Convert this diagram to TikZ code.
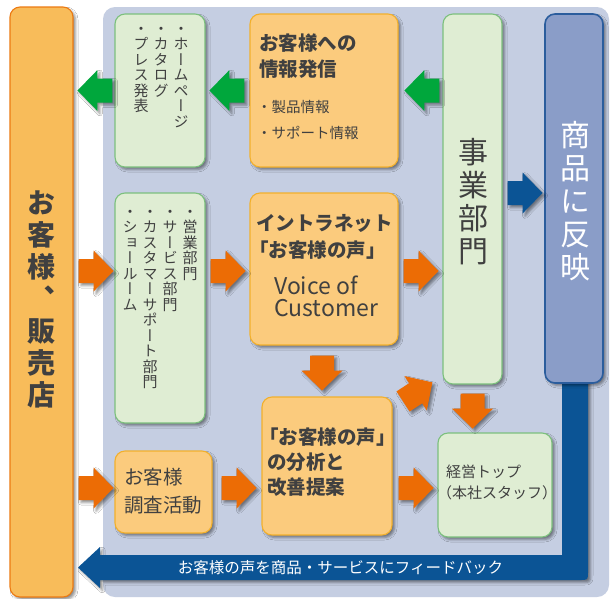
\documentclass[tikz,border=0pt]{standalone}
\usepackage{fontspec}
\setmainfont{Noto Sans CJK JP}
\newfontfamily\vfont[RawFeature=+vert]{Noto Sans CJK JP}
\usetikzlibrary{calc,fit,shadows,shadows.blur}
\definecolor{txt}{HTML}{404040}
\definecolor{panel}{HTML}{C5CEE2}
\definecolor{lfill}{HTML}{F8BC5A}
\definecolor{ldraw}{HTML}{EC7A12}
\definecolor{gfill}{HTML}{DFEDD3}
\definecolor{gdraw}{HTML}{7CC07D}
\definecolor{ofill}{HTML}{FBCB7D}
\definecolor{odraw}{HTML}{F2B02C}
\definecolor{oarrow}{HTML}{EC6C05}
\definecolor{garrow}{HTML}{00A73C}
\definecolor{darkblue}{HTML}{0B5495}
\definecolor{bfill}{HTML}{8A9DC8}
\definecolor{bdraw}{HTML}{2B5D9D}
\ExplSyntaxOn
\NewDocumentCommand\vst{m}{
  \seq_clear:N \l_tmpa_seq
  \tl_map_inline:nn {#1} { \seq_put_right:Nn \l_tmpa_seq {##1} }
  \seq_use:Nn \l_tmpa_seq {\\}
}
\ExplSyntaxOff
\newcommand\barrow[3]{\path[#1, shift={#2}, rotate=#3] (0pt,12pt) -- (15pt,12pt) -- (15pt,20.5pt) -- (35pt,0pt) -- (15pt,-20.5pt) -- (15pt,-12pt) -- (0pt,-12pt) -- cycle;}
\tikzset{
  shad/.style={blur shadow={shadow xshift=2.5pt, shadow yshift=-2.5pt, shadow blur radius=2.5pt, shadow opacity=45}},
  box/.style={rounded corners=10pt, line width=1.1pt, shad, inner sep=0pt},
  gbox/.style={box, fill=gfill, draw=gdraw},
  obox/.style={box, fill=ofill, draw=odraw},
  oarr/.style={fill=oarrow, shad},
  garr/.style={fill=garrow, shad},
  barr/.style={fill=darkblue, shad},
  t/.style={text=txt, inner sep=0pt, anchor=west},
  hb/.style={t, font=\bfseries\fontsize{19.5}{20}\selectfont},
  vt/.style={text=txt, inner sep=0pt, align=center, anchor=north, font=\vfont\fontsize{15}{15.5}\selectfont},
}
\begin{document}
\begin{tikzpicture}[x=1pt,y=-1pt]
\useasboundingbox (0,0) rectangle (611,598);
\fill[white] (0,0) rectangle (611,598);
% panel
\node[fit={(103,7) (609,597)}, inner sep=0pt, fill=panel, rounded corners=12pt] (panel) {};
% left box
\node[fit={(10,7) (73,597)}, box, fill=lfill, draw=ldraw] (left) {};
\node[text=txt, inner sep=0pt, align=center, font=\vfont\bfseries\fontsize{28}{32}\selectfont] at (41.5,299) {\vst{お客様、販売店}};
% feedback path
\coordinate (fbtop) at (575,370);
\coordinate (fbtip) at (78,567.5);
\fill[darkblue, shad] (fbtop -| 562,0) -- (562,555) -- (100,555) -- (100,547) -- (fbtip) -- (100,588) -- (100,580) -- (580,580) .. controls (588,580) .. (588,572) -- (fbtop -| 588,0) -- cycle;
\node[text=white, inner sep=0pt, font=\fontsize{15.5}{16}\selectfont] (fbtext) at (340.5,567.5) {お客様の声を商品・サービスにフィードバック};
% boxes
\node[fit={(115,14) (205,167)}, gbox] (g1) {};
\node[fit={(250,14) (398,167)}, obox] (o1) {};
\node[fit={(443,14) (502,384)}, gbox] (jigyo) {};
\node[fit={(545,14) (603,383)}, box, fill=bfill, draw=bdraw, line width=1.6pt] (shohin) {};
\node[fit={(115,193) (205,423)}, gbox] (g2) {};
\node[fit={(250,193) (398,345)}, obox] (o2) {};
\node[fit={(262,397) (392,535)}, obox] (o3) {};
\node[fit={(115,451) (212,533)}, obox] (o4) {};
\node[fit={(438,433) (552,537)}, gbox] (g3) {};
% texts
\node[vt] at (181,27) {\vst{・ホームページ}};
\node[vt] at (161,27) {\vst{・カタログ}};
\node[vt] at (141,27) {\vst{・プレス発表}};
\node[vt] at (190,210) {\vst{・営業部門}};
\node[vt] at (170,210) {\vst{・サービス部門}};
\node[vt] at (150,210) {\vst{・カスタマーサポート部門}};
\node[vt] at (130,210) {\vst{・ショールーム}};
\node[hb] at (259,43) {お客様への};
\node[hb] at (259,69) {情報発信};
\node[t, font=\fontsize{14.5}{15}\selectfont] at (257,107) {・製品情報};
\node[t, font=\fontsize{14.5}{15}\selectfont] at (257,133) {・サポート情報};
\node[hb] at (256,223) {イントラネット};
\node[hb] at (249,250) {「お客様の声」};
\node[t, font=\fontsize{23}{24}\selectfont] at (274,285) {Voice of};
\node[t, font=\fontsize{23}{24}\selectfont] at (274,308) {Customer};
\node[hb] at (259,437) {「お客様の声」};
\node[hb] at (267,462) {の分析と};
\node[hb] at (267,487) {改善提案};
\node[t, font=\fontsize{19.5}{20}\selectfont] at (124,477) {お客様};
\node[t, font=\fontsize{19.5}{20}\selectfont] at (124,505) {調査活動};
\node[t, font=\fontsize{15}{16}\selectfont] at (446,472) {経営トップ};
\node[t, font=\fontsize{15}{16}\selectfont] at (437,493) {（本社スタッフ）};
\node[text=txt, inner sep=0pt, align=center, font=\vfont\fontsize{30}{33}\selectfont] at (473,201.5) {\vst{事業部門}};
\node[text=white, inner sep=0pt, align=center, font=\vfont\fontsize{30}{33}\selectfont] at (575,201) {\vst{商品に反映}};
% arrows
\barrow{garr}{($(g1.west)+(-2,0)$)}{180}
\barrow{garr}{($(o1.west)+(-5,0)$)}{180}
\barrow{garr}{($(jigyo.west |- o1.west)+(-3,0)$)}{180}
\barrow{barr}{($(jigyo.east)+(5,-6)$)}{0}
\barrow{oarr}{($(left.east |- o2.east)+(5,2)$)}{0}
\barrow{oarr}{($(g2.east |- o2.west)+(5,2)$)}{0}
\barrow{oarr}{($(o2.east)+(5,2)$)}{0}
\barrow{oarr}{($(o2.south)+(-2,10)$)}{-90}
\barrow{oarr}{($(o3.north east)+(10.5,5)$)}{33}
\barrow{oarr}{($(jigyo.south)+(0,9)$)}{-90}
\barrow{oarr}{($(left.east |- o4.east)+(5,-4)$)}{0}
\barrow{oarr}{($(o4.east)+(9,-4)$)}{0}
\barrow{oarr}{($(o3.east)+(6,22)$)}{0}
\end{tikzpicture}
\end{document}
